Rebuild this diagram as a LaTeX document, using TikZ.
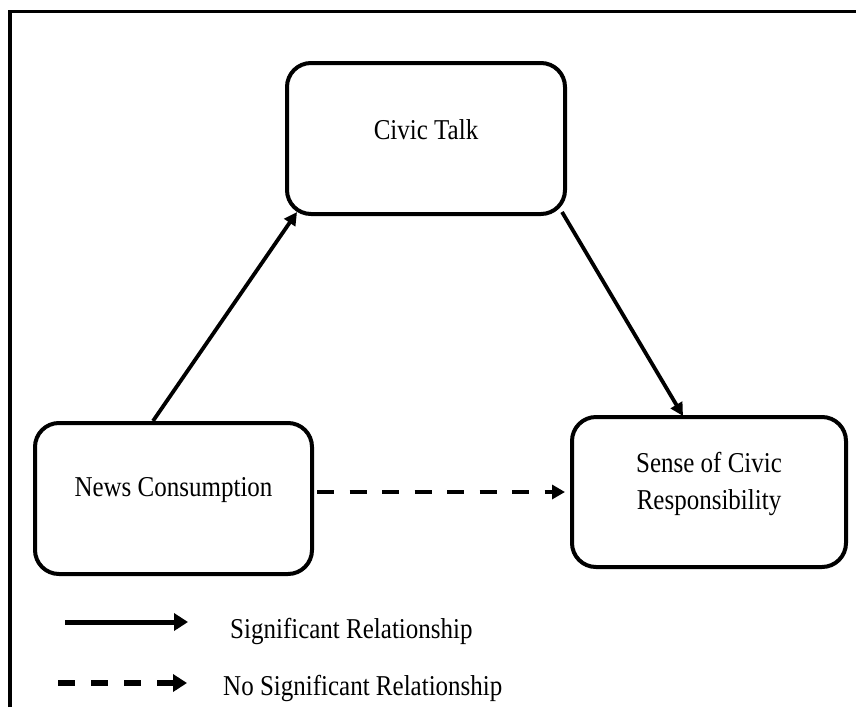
\documentclass[tikz,border=0pt]{standalone}
\usepackage{fontspec}
\setmainfont{Liberation Serif}
\usetikzlibrary{arrows.meta}
\newcommand{\vstretch}[1]{\scalebox{1}[1.15]{#1}}
\begin{document}
\begin{tikzpicture}[x=1pt,y=-1pt,
  box/.style={draw,line width=4pt,rounded corners=24pt,inner sep=0pt},
  lbl/.style={font=\fontsize{25}{32}\selectfont, inner sep=0pt},
  sig/.style={line width=3.8pt,-{Triangle[length=13pt,width=13pt]}},
  nsig/.style={line width=4.5pt,dash pattern=on 17pt off 15.5pt,-{Triangle[length=13pt,width=14pt]}}]
\useasboundingbox (0,0) rectangle (856,707);
% frame (top and left edges visible)
\draw[line width=3.5pt] (10,707) -- (10,11.5) -- (856,11.5);
% boxes
\node[box,minimum width=278pt,minimum height=151pt] (civic) at (426,138.5) {};
\node[lbl] (civict) at (426,130) {\vstretch{Civic Talk}};
\node[box,minimum width=277pt,minimum height=151pt] (news) at (173.5,498.5) {};
\node[lbl] (newst) at (173.5,490) {\vstretch{News Consumption}};
\node[box,minimum width=274pt,minimum height=150pt] (sense) at (709,492) {};
\node[lbl] (senset) at (709,483.5) {\vstretch{\begin{tabular}{@{}c@{}}Sense of Civic\\Responsibility\end{tabular}}};
% connectors
\draw[sig] ([xshift=-20.5pt]news.north) -- ([xshift=-129pt,yshift=4pt]civic.south);
\draw[sig] ([xshift=-5pt,yshift=4pt]civic.south east) -- ([xshift=-26pt,yshift=-1pt]sense.north);
\draw[nsig,shorten <=3pt,shorten >=5pt] (news.east |- sense.west) -- (sense.west);
% legend
\coordinate (s1) at (65,622);
\coordinate (s2) at (188,622);
\draw[sig,line width=5pt,-{Triangle[length=14pt,width=17pt]}] (s1) -- (s2);
\node[lbl,anchor=base west] (sigt) at (230,638) {\vstretch{Significant Relationship}};
\coordinate (d1) at (58,683);
\coordinate (d2) at (187,683);
\draw[nsig,line width=5.5pt,dash pattern=on 17pt off 16pt,-{Triangle[length=14pt,width=17pt]}] (d1) -- (d2);
\node[lbl,anchor=base west] (nsigt) at (223,695) {\vstretch{No Significant Relationship}};
\end{tikzpicture}
\end{document}
